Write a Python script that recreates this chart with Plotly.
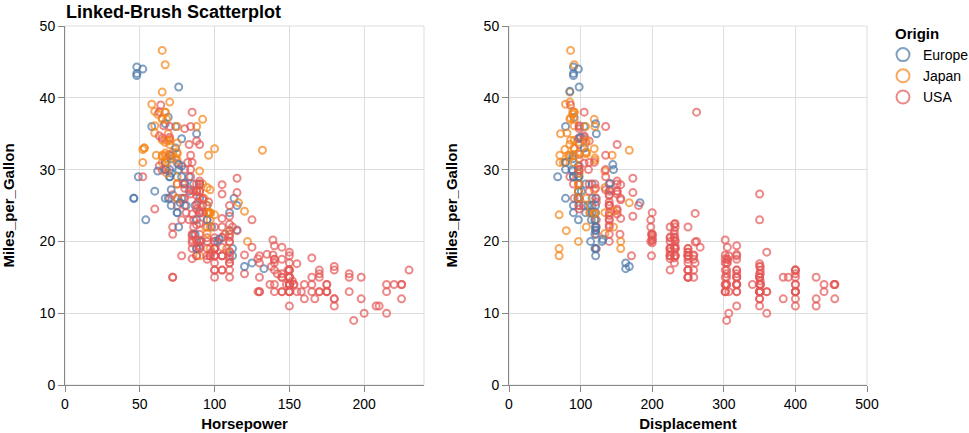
import plotly.graph_objects as go

# ---- data (cars dataset) ----
mpg = [
    18, 15, 18, 16, 17, 15, 14, 14, 14, 15,
    15, 14, 15, 14, 24, 22, 18, 21, 27, 26,
    25, 24, 25, 26, 21, 10, 10, 11, 9, 27,
    28, 25, 25, 19, 16, 17, 19, 18, 14, 14,
    14, 14, 12, 13, 13, 18, 22, 19, 18, 23,
    28, 30, 30, 31, 35, 27, 26, 24, 25, 23,
    20, 21, 13, 14, 15, 14, 17, 11, 13, 12,
    13, 19, 15, 13, 13, 14, 18, 22, 21, 26,
    22, 28, 23, 28, 27, 13, 14, 13, 14, 15,
    12, 13, 13, 14, 13, 12, 13, 18, 16, 18,
    18, 23, 26, 11, 12, 13, 12, 18, 20, 21,
    22, 18, 19, 21, 26, 15, 16, 29, 24, 20,
    19, 15, 24, 20, 11, 20, 21, 19, 15, 31,
    26, 32, 25, 16, 16, 18, 16, 13, 14, 14,
    14, 29, 26, 26, 31, 32, 28, 24, 26, 24,
    26, 31, 19, 18, 15, 15, 16, 15, 16, 14,
    17, 16, 15, 18, 21, 20, 13, 29, 23, 20,
    23, 24, 25, 24, 18, 29, 19, 23, 23, 22,
    25, 33, 28, 25, 25, 26, 27, 17.5, 16, 15.5,
    14.5, 22, 22, 24, 22.5, 29, 24.5, 29, 33, 20,
    18, 18.5, 17.5, 29.5, 32, 28, 26.5, 20, 13, 19,
    19, 16.5, 16.5, 13, 13, 13, 31.5, 30, 36, 25.5,
    33.5, 17.5, 17, 15.5, 15, 17.5, 20.5, 19, 18.5, 16,
    15.5, 15.5, 16, 29, 24.5, 26, 25.5, 30.5, 33.5, 30,
    30.5, 22, 21.5, 21.5, 43.1, 36.1, 32.8, 39.4, 36.1, 19.9,
    19.4, 20.2, 19.2, 20.5, 20.2, 25.1, 20.5, 19.4, 20.6, 20.8,
    18.6, 18.1, 19.2, 17.7, 18.1, 17.5, 30, 27.5, 27.2, 30.9,
    21.1, 23.2, 23.8, 23.9, 20.3, 17, 21.6, 16.2, 31.5, 29.5,
    21.5, 19.8, 22.3, 20.2, 20.6, 17, 17.6, 16.5, 18.2, 16.9,
    15.5, 19.2, 18.5, 31.9, 34.1, 35.7, 27.4, 25.4, 23, 27.2,
    23.9, 34.2, 34.5, 31.8, 37.3, 28.4, 28.8, 26.8, 33.5, 41.5,
    38.1, 32.1, 37.2, 28, 26.4, 24.3, 19.1, 34.3, 29.8, 31.3,
    37, 32.2, 46.6, 27.9, 40.8, 44.3, 43.4, 36.4, 30, 44.6,
    40.9, 33.8, 29.8, 32.7, 23.7, 35, 23.6, 32.4, 27.2, 26.6,
    25.8, 23.5, 30, 39.1, 39, 35.1, 32.3, 37, 37.7, 34.1,
    34.7, 34.4, 29.9, 33, 34.5, 33.7, 32.4, 32.9, 31.6, 28.1,
    30.7, 25.4, 24.2, 22.4, 26.6, 20.2, 17.6, 28, 27, 34,
    31, 29, 27, 24, 36, 37, 31, 38, 36, 36,
    36, 34, 38, 32, 38, 25, 38, 26, 22, 32,
    36, 27, 27, 44, 32, 28, 31,
]

displacement = [
    307, 350, 318, 304, 302, 429, 454, 440, 455, 390,
    383, 340, 400, 455, 113, 198, 199, 200, 97, 97,
    110, 107, 104, 121, 199, 360, 307, 318, 304, 97,
    140, 113, 98, 232, 225, 250, 250, 232, 350, 400,
    351, 318, 383, 400, 400, 258, 140, 250, 250, 122,
    116, 79, 88, 71, 72, 97, 91, 113, 97.5, 97,
    140, 122, 350, 400, 318, 351, 304, 429, 350, 350,
    400, 70, 304, 307, 302, 318, 121, 121, 120, 96,
    122, 97, 120, 98, 97, 350, 304, 350, 302, 318,
    429, 400, 351, 318, 440, 455, 360, 225, 250, 232,
    250, 198, 97, 400, 400, 360, 350, 232, 97, 140,
    108, 70, 122, 155, 98, 350, 400, 68, 116, 114,
    121, 318, 121, 156, 350, 198, 200, 232, 250, 79,
    122, 71, 140, 250, 258, 225, 302, 350, 318, 302,
    304, 98, 79, 97, 76, 83, 90, 90, 116, 120,
    108, 79, 225, 250, 250, 250, 400, 350, 318, 351,
    231, 250, 258, 225, 231, 262, 302, 97, 140, 232,
    140, 134, 90, 119, 171, 90, 232, 115, 120, 121,
    121, 91, 107, 116, 140, 98, 101, 305, 318, 304,
    351, 225, 250, 200, 232, 85, 98, 90, 91, 225,
    250, 250, 258, 97, 85, 97, 140, 130, 318, 120,
    156, 168, 350, 350, 302, 318, 98, 111, 79, 122,
    85, 305, 260, 318, 302, 250, 231, 225, 250, 400,
    350, 400, 351, 97, 151, 97, 140, 98, 98, 97,
    97, 146, 121, 80, 90, 98, 78, 85, 91, 260,
    318, 302, 231, 200, 200, 140, 225, 232, 231, 200,
    225, 258, 305, 231, 302, 318, 98, 134, 119, 105,
    134, 156, 151, 119, 131, 163, 121, 163, 89, 98,
    231, 200, 140, 232, 225, 305, 302, 351, 318, 350,
    351, 267, 360, 89, 86, 98, 121, 183, 350, 141,
    260, 105, 105, 85, 91, 151, 173, 173, 151, 98,
    89, 98, 86, 151, 140, 151, 225, 97, 134, 120,
    119, 108, 86, 156, 85, 90, 90, 121, 146, 91,
    85, 97, 89, 168, 70, 122, 140, 107, 135, 151,
    156, 173, 135, 79, 86, 81, 97, 85, 89, 91,
    105, 98, 98, 105, 100, 107, 108, 119, 120, 141,
    145, 168, 146, 231, 350, 200, 225, 112, 112, 112,
    112, 135, 151, 140, 105, 91, 91, 105, 98, 120,
    107, 108, 91, 91, 91, 181, 262, 156, 232, 144,
    135, 151, 140, 97, 135, 120, 119,
]

horsepower = [
    130, 165, 150, 150, 140, 198, 220, 215, 225, 190,
    170, 160, 150, 225, 95, 95, 97, 85, 88, 46,
    87, 90, 95, 113, 90, 215, 200, 210, 193, 88,
    90, 95, None, 100, 105, 100, 88, 100, 165, 175,
    153, 150, 180, 170, 175, 110, 72, 100, 88, 86,
    90, 70, 76, 65, 69, 60, 70, 95, 80, 54,
    90, 86, 165, 175, 150, 153, 150, 208, 155, 160,
    190, 97, 150, 130, 140, 150, 112, 76, 87, 69,
    86, 92, 97, 80, 88, 175, 150, 145, 137, 150,
    198, 150, 158, 150, 215, 225, 175, 105, 100, 100,
    88, 95, 46, 150, 167, 170, 180, 100, 88, 72,
    94, 90, 85, 107, 90, 145, 230, 49, 75, 91,
    112, 150, 110, 122, 180, 95, None, 100, 100, 67,
    80, 65, 75, 100, 110, 105, 140, 150, 150, 140,
    150, 83, 67, 78, 52, 61, 75, 75, 75, 97,
    93, 67, 95, 105, 72, 72, 170, 145, 150, 148,
    110, 105, 110, 95, 110, 110, 129, 75, 83, 100,
    78, 96, 71, 97, 97, 70, 90, 95, 88, 98,
    115, 53, 86, 81, 92, 79, 83, 140, 150, 120,
    152, 100, 105, 81, 90, 52, 60, 70, 53, 100,
    78, 110, 95, 71, 70, 75, 72, 102, 150, 88,
    108, 120, 180, 145, 130, 150, 68, 80, 58, 96,
    70, 145, 110, 145, 130, 110, 105, 100, 98, 180,
    170, 190, 149, 78, 88, 75, 89, 63, 83, 67,
    78, 97, 110, 110, 48, 66, 52, 70, 60, 110,
    140, 139, 105, 95, 85, 88, 100, 90, 105, 85,
    110, 120, 145, 165, 139, 140, 68, 95, 97, 75,
    95, 105, 85, 97, 103, 125, 115, 133, 71, 68,
    115, 85, 88, 90, 110, 130, 129, 138, 135, 155,
    142, 125, 150, 71, 65, 80, 80, 77, 125, 71,
    90, 70, 70, 65, 69, 90, 115, 115, 90, 76,
    60, 70, 65, 90, 88, 90, 90, 78, 90, 75,
    92, 75, 65, 105, 65, 48, 48, 67, 67, 67,
    None, 67, 62, 132, 100, 88, None, 72, 84, 84,
    92, 110, 84, 58, 64, 60, 67, 65, 62, 68,
    63, 65, 65, 74, None, 75, 75, 100, 74, 80,
    76, 116, 120, 110, 105, 88, 85, 88, 88, 88,
    85, 84, 90, 92, 74, 68, 68, 63, 70, 88,
    75, 70, 67, 67, 67, 110, 85, 92, 112, 96,
    84, 90, 86, 52, 84, 79, 82,
]

# 1 = USA, 2 = Europe, 3 = Japan
origin_code = [
    1, 1, 1, 1, 1, 1, 1, 1, 1, 1,
    1, 1, 1, 1, 3, 1, 1, 1, 3, 2,
    2, 2, 2, 2, 1, 1, 1, 1, 1, 3,
    1, 3, 1, 1, 1, 1, 1, 1, 1, 1,
    1, 1, 1, 1, 1, 1, 1, 1, 1, 1,
    2, 2, 2, 3, 3, 2, 1, 3, 1, 2,
    1, 1, 1, 1, 1, 1, 1, 1, 1, 1,
    1, 3, 1, 1, 1, 1, 2, 2, 2, 2,
    1, 3, 3, 1, 3, 1, 1, 1, 1, 1,
    1, 1, 1, 1, 1, 1, 1, 1, 1, 1,
    1, 1, 2, 1, 1, 1, 1, 1, 3, 1,
    3, 3, 1, 1, 2, 1, 1, 2, 2, 2,
    2, 1, 2, 3, 1, 1, 1, 1, 1, 3,
    1, 3, 1, 1, 1, 1, 1, 1, 1, 1,
    1, 2, 2, 2, 3, 3, 1, 2, 2, 3,
    3, 2, 1, 1, 1, 1, 1, 1, 1, 1,
    1, 1, 1, 1, 1, 1, 1, 3, 1, 1,
    1, 3, 2, 3, 1, 2, 1, 2, 2, 2,
    2, 3, 2, 2, 1, 1, 2, 1, 1, 1,
    1, 1, 1, 1, 1, 1, 1, 2, 3, 1,
    1, 1, 1, 2, 3, 3, 1, 2, 1, 2,
    3, 2, 1, 1, 1, 1, 3, 1, 2, 1,
    3, 1, 1, 1, 1, 1, 1, 1, 1, 1,
    1, 1, 1, 2, 1, 3, 1, 1, 1, 3,
    2, 3, 2, 3, 2, 1, 3, 3, 3, 1,
    1, 1, 1, 1, 1, 1, 1, 1, 1, 1,
    1, 1, 1, 1, 1, 1, 1, 3, 3, 1,
    3, 1, 1, 3, 2, 2, 2, 2, 2, 3,
    1, 1, 1, 1, 1, 1, 1, 1, 1, 1,
    1, 1, 1, 2, 3, 1, 1, 2, 1, 2,
    1, 1, 1, 3, 2, 1, 1, 1, 1, 2,
    3, 1, 3, 1, 1, 1, 1, 2, 3, 3,
    3, 3, 3, 1, 3, 2, 2, 2, 2, 3,
    2, 3, 2, 3, 3, 2, 1, 3, 1, 1,
    1, 1, 1, 3, 1, 3, 3, 3, 3, 3,
    1, 1, 1, 2, 2, 3, 3, 3, 3, 2,
    2, 3, 3, 1, 1, 1, 1, 1, 1, 1,
    1, 1, 1, 1, 2, 3, 3, 1, 1, 3,
    3, 3, 3, 3, 3, 1, 1, 1, 1, 3,
    1, 1, 1, 2, 1, 1, 1,
]

origin_names = {1: "USA", 2: "Europe", 3: "Japan"}
legend_order = ["Europe", "Japan", "USA"]
colors = {"Europe": "#4c78a8", "Japan": "#f58518", "USA": "#e45756"}

origin = [origin_names[c] for c in origin_code]

FONT = "Liberation Sans, Arial, Helvetica, sans-serif"
W, H = 969, 433


def points(xvals):
    xs, ys, cs = [], [], []
    for xv, yv, o in zip(xvals, mpg, origin):
        if xv is None or yv is None:
            continue
        xs.append(xv)
        ys.append(yv)
        cs.append(colors[o])
    return xs, ys, cs


fig = go.Figure()

for xvals, xa, ya in [(horsepower, "x", "y"), (displacement, "x2", "y2")]:
    xs, ys, cs = points(xvals)
    fig.add_trace(go.Scatter(
        x=xs, y=ys, mode="markers", xaxis=xa, yaxis=ya,
        showlegend=False, hoverinfo="skip",
        marker=dict(symbol="circle-open", size=7, color=cs,
                    opacity=0.7, line=dict(width=2)),
    ))

for name in legend_order:
    fig.add_trace(go.Scatter(
        x=[None], y=[None], mode="markers", name=name,
        marker=dict(symbol="circle-open", size=13, color=colors[name],
                    opacity=0.7, line=dict(width=2)),
    ))

axis_common = dict(
    showgrid=True, gridcolor="#dddddd", gridwidth=1,
    showline=True, linecolor="#888888", linewidth=1,
    ticks="outside", ticklen=6, tickcolor="#888888", tickwidth=1,
    zeroline=False, tickfont=dict(size=14, color="#000000", family=FONT),
    title_font=dict(size=15, color="#000000", family=FONT, weight="bold"),
    fixedrange=True, automargin=False,
)

x1 = (65 / W, 424 / W)
x2 = (509 / W, 867 / W)
yd = ((H - 385) / H, (H - 26) / H)

fig.update_layout(
    width=W, height=H,
    margin=dict(l=0, r=0, t=0, b=0, autoexpand=False),
    paper_bgcolor="white", plot_bgcolor="white",
    font=dict(family=FONT, color="#000000"),
    xaxis=dict(domain=list(x1), range=[0, 240], tickvals=[0, 50, 100, 150, 200],
               anchor="y", title=dict(text="Horsepower", standoff=7), **axis_common),
    yaxis=dict(domain=list(yd), range=[0, 50], dtick=10, anchor="x",
               title=dict(text="Miles_per_Gallon", standoff=22), **axis_common),
    xaxis2=dict(domain=list(x2), range=[0, 500], dtick=100, anchor="y2",
                title=dict(text="Displacement", standoff=7), **axis_common),
    yaxis2=dict(domain=list(yd), range=[0, 50], dtick=10, anchor="x2",
                title=dict(text="Miles_per_Gallon", standoff=22), **axis_common),
    legend=dict(
        x=883 / W, y=(H - 39) / H, xanchor="left", yanchor="top",
        font=dict(size=14, family=FONT), itemsizing="trace",
        bgcolor="rgba(0,0,0,0)",
    ),
    annotations=[
        dict(text="Linked-Brush Scatterplot", x=64 / W, y=1, xref="paper", yref="paper",
             xanchor="left", yanchor="top", showarrow=False,
             font=dict(size=18, weight="bold", family=FONT, color="#000000")),
        dict(text="Origin", x=893 / W, y=(H - 33) / H, xref="paper", yref="paper",
             xanchor="left", yanchor="middle", showarrow=False,
             font=dict(size=15, weight="bold", family=FONT, color="#000000")),
    ],
    shapes=[
        dict(type="rect", xref="x domain", yref="y domain", x0=0, x1=1, y0=0, y1=1,
             line=dict(color="#dddddd", width=1), layer="below"),
        dict(type="rect", xref="x2 domain", yref="y2 domain", x0=0, x1=1, y0=0, y1=1,
             line=dict(color="#dddddd", width=1), layer="below"),
    ],
)

fig.write_html(
    "out.html",
    config={"displayModeBar": False, "staticPlot": False},
    post_script="document.body.style.margin='0px';document.body.style.overflow='hidden';",
)
